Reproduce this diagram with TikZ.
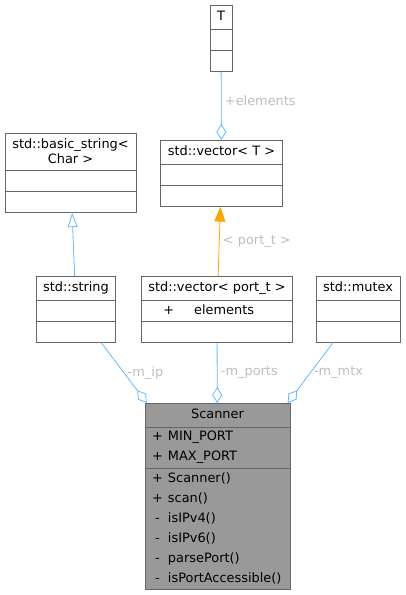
\documentclass[tikz,border=0pt]{standalone}
\usepackage{fontspec}
\setmainfont{DejaVu Sans}
\usetikzlibrary{shapes.multipart,arrows.meta}
\definecolor{boxline}{HTML}{666666}
\definecolor{scanfill}{HTML}{999999}
\definecolor{edgeblue}{HTML}{63B8FF}
\definecolor{edgeorange}{HTML}{FFA500}
\definecolor{labelgrey}{HTML}{BEBEBE}
\newcommand\tstrut{\rule[-4.5pt]{0pt}{16pt}}
\newcommand\rstrut{\rule[-3.5pt]{0pt}{13pt}}
\newcommand\pub{\makebox[16pt][l]{+}}
\newcommand\priv{\makebox[16pt][l]{\hspace{3pt}-}}

\begin{document}
\begin{tikzpicture}[x=1pt, y=-1pt, font=\fontsize{12.9}{14.5}\selectfont,
    cls/.style = {draw=boxline, fill=white, line width=0.9pt, anchor=north,
        rectangle split, rectangle split parts=3,
        rectangle split part align={center,left,left},
        rectangle split empty part height=9.5pt,
        rectangle split empty part depth=3.5pt,
        inner xsep=7pt, inner ysep=3.5pt, align=center},
    agg/.style = {draw=edgeblue, line width=0.8pt, -{Diamond[open, length=16pt, width=10pt]}},
    inh/.style = {draw=edgeblue, line width=0.8pt, -{Triangle[open, length=14pt, width=10pt]}},
    tmpl/.style = {draw=edgeorange, line width=0.8pt, -{Triangle[length=15pt, width=11pt, fill=edgeorange]}},
    lbl/.style = {text=labelgrey, right, midway}]
    \useasboundingbox (0,0) rectangle (406,595);

    \node[cls, minimum width=22pt] (T) at (221,5) {\tstrut T};
    \node[cls, minimum width=121pt] (vecT) at (221.5,140) {\tstrut std::vector< T >};
    \node[cls, minimum width=131pt] (basic) at (70.5,133) {\tstrut std::basic\_string<\\\rstrut Char >};
    \node[cls, minimum width=78pt] (string) at (76,276) {\tstrut std::string};
    \node[cls, minimum width=150pt] (vport) at (217,276) {\tstrut std::vector< port\_t >
        \nodepart{second}\rstrut\hspace*{15pt}+\hspace{20pt}elements};
    \node[cls, minimum width=84pt] (mutex) at (358,276) {\tstrut std::mutex};
    \node[cls, fill=scanfill, align=left, minimum width=145pt] (scanner) at (217.5,403) {\tstrut Scanner
        \nodepart{second}\rstrut\pub MIN\_PORT\\[5.5pt]\rstrut\pub MAX\_PORT
        \nodepart{third}\rstrut\pub Scanner()\\[5.5pt]\rstrut\pub scan()\\[5.5pt]\rstrut\priv isIPv4()\\[5.5pt]\rstrut\priv isIPv6()\\[5.5pt]\rstrut\priv parsePort()\\[5.5pt]\rstrut\priv isPortAccessible()};

    \draw[agg] (T) -- (vecT) node[lbl, pos=0.43] {+elements};
    \draw[inh] (string) -- (basic);
    \draw[tmpl] (vport) -- (vecT) node[lbl] {< port\_t >};
    \draw[agg] (string) -- (scanner) node[lbl] {-m\_ip};
    \draw[agg] (vport) -- (scanner) node[lbl] {-m\_ports};
    \draw[agg] (mutex) -- (scanner) node[lbl] {-m\_mtx};
\end{tikzpicture}
\end{document}
